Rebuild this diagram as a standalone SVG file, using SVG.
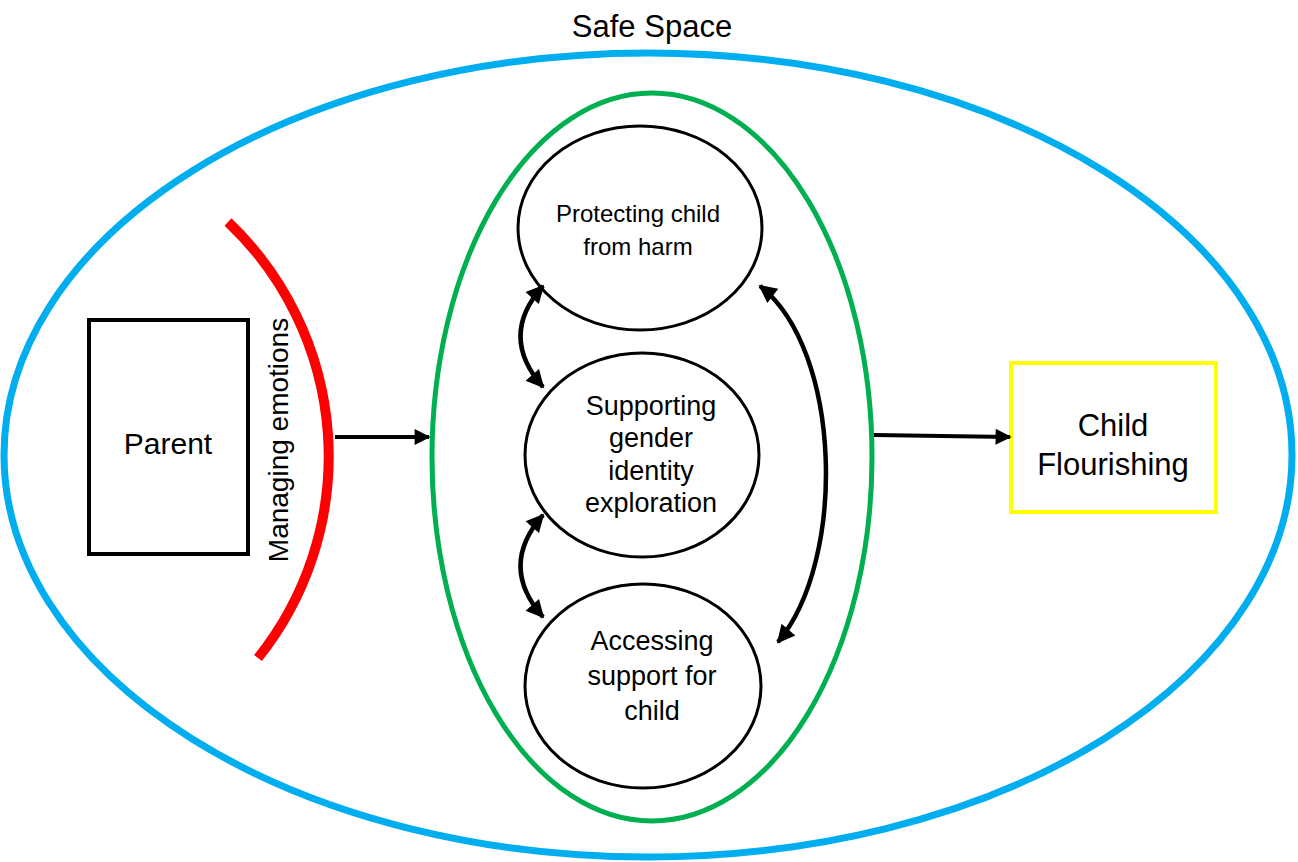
<svg xmlns="http://www.w3.org/2000/svg" width="1298" height="862" viewBox="0 0 1298 862">
  <style>
    text { font-family: "Liberation Sans", Arial, sans-serif; fill: #000; text-anchor: middle; }
    .lbl { font-size: 27px; }
    .big { font-size: 31px; }
    .node { fill: #fff; stroke: #000; stroke-width: 3; }
    .conn { fill: none; stroke: #000; stroke-width: 4; }
    .loop { stroke-width: 4.5; }
  </style>
  <defs>
    <marker id="ah" viewBox="0 0 10 10" refX="9" refY="5" markerWidth="4.5" markerHeight="4" orient="auto-start-reverse" markerUnits="strokeWidth">
      <path d="M0,0 L10,5 L0,10 z" fill="#000"/>
    </marker>
  </defs>
  <rect width="1298" height="862" fill="#fff"/>

  <g id="safe-space">
    <ellipse cx="648" cy="455" rx="644" ry="402" fill="none" stroke="#00AEEF" stroke-width="7"/>
    <text x="652" y="37" style="font-size:31px">Safe Space</text>
  </g>

  <g id="parenting-roles">
    <ellipse cx="652" cy="457" rx="220" ry="364" fill="none" stroke="#00B050" stroke-width="5"/>
  </g>

  <g id="parent">
    <rect x="89" y="320" width="159" height="234" fill="#fff" stroke="#000" stroke-width="4"/>
    <text x="168" y="454" style="font-size:30px">Parent</text>
  </g>

  <g id="managing-emotions">
    <path d="M228,222 A323,323 0 0 1 258,658" fill="none" stroke="#FF0000" stroke-width="10"/>
    <text transform="translate(288,440) rotate(-90)" style="font-size:28px">Managing emotions</text>
  </g>

  <g id="protecting">
    <ellipse class="node" cx="640" cy="228" rx="122" ry="102"/>
    <text x="638" y="222" style="font-size:24px">Protecting child</text>
    <text x="638" y="255" style="font-size:24px">from harm</text>
  </g>

  <g id="supporting">
    <ellipse class="node" cx="642" cy="455" rx="117" ry="102"/>
    <text class="lbl" x="651" y="415">Supporting</text>
    <text class="lbl" x="651" y="447">gender</text>
    <text class="lbl" x="651" y="480">identity</text>
    <text class="lbl" x="651" y="512">exploration</text>
  </g>

  <g id="accessing">
    <ellipse class="node" cx="643" cy="686" rx="118" ry="102"/>
    <text class="lbl" x="652" y="650">Accessing</text>
    <text class="lbl" x="652" y="685">support for</text>
    <text class="lbl" x="652" y="720">child</text>
  </g>

  <g id="child-flourishing">
    <rect x="1011" y="363" width="205" height="149" fill="#fff" stroke="#FFFF00" stroke-width="4"/>
    <text class="big" x="1113" y="436">Child</text>
    <text class="big" x="1113" y="475">Flourishing</text>
  </g>

  <g id="connectors">
    <line class="conn" x1="335" y1="437" x2="429" y2="437" marker-end="url(#ah)"/>
    <line class="conn" x1="874" y1="435" x2="1010" y2="437" marker-end="url(#ah)"/>
    <path class="conn loop" d="M543,286 Q498,336 543,387" marker-start="url(#ah)" marker-end="url(#ah)"/>
    <path class="conn loop" d="M543,515 Q498,566 543,617" marker-start="url(#ah)" marker-end="url(#ah)"/>
    <path class="conn loop" d="M760,286 C842,350 847,560 778,642" marker-start="url(#ah)" marker-end="url(#ah)"/>
  </g>
</svg>
